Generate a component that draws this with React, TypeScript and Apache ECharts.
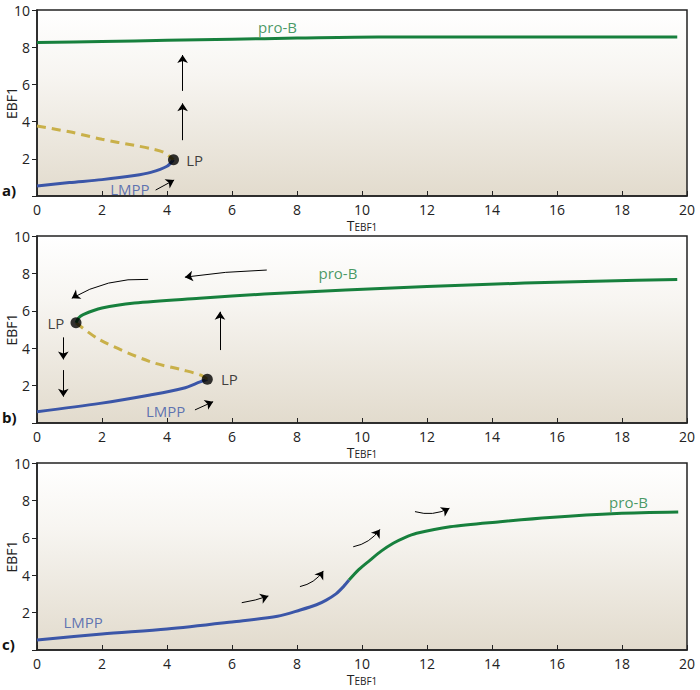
import React, { useEffect, useRef } from "react";
import * as echarts from "echarts";

// x ticks / axis
const xTicks = [0, 2, 4, 6, 8, 10, 12, 14, 16, 18, 20];
const yTicks = [0, 2, 4, 6, 8, 10];

// Panel a
const aProB = [[0, 8.25], [2, 8.31], [4, 8.37], [6, 8.43], [8, 8.49], [10.5, 8.55], [19.7, 8.55]];
const aUnstable = [[0, 3.76], [1, 3.45], [2, 3.05], [3, 2.72], [3.5, 2.55], [3.9, 2.35], [4.2, 1.95]];
const aStable = [[0, 0.54], [1, 0.72], [2, 0.88], [3, 1.1], [3.5, 1.27], [4, 1.6], [4.2, 1.95]];
const aLP = [[4.2, 1.95]];

// Panel b
const bProB = [[1.2, 5.36], [1.28, 5.62], [1.42, 5.8], [2, 6.15], [3, 6.42], [5, 6.67], [7, 6.9], [9.5, 7.11], [12, 7.3], [15, 7.48], [17.5, 7.6], [19.7, 7.68]];
const bUnstable = [[1.2, 5.36], [1.94, 4.44], [3.48, 3.28], [4.5, 2.83], [5.02, 2.57], [5.24, 2.34]];
const bStable = [[0, 0.6], [1.94, 1.05], [3.48, 1.5], [4.5, 1.86], [5.02, 2.2], [5.24, 2.34]];
const bLP = [[1.2, 5.36], [5.24, 2.34]];

// Panel c
const cStable = [[0, 0.53], [2, 0.86], [4, 1.12], [6, 1.5], [7.4, 1.8], [8.1, 2.14], [8.6, 2.42], [8.9, 2.67], [9.2, 3.0], [9.43, 3.39], [9.6, 3.74]];
const cProB = [[9.6, 3.74], [9.9, 4.3], [10.25, 4.81], [10.6, 5.3], [10.96, 5.71], [11.3, 6.0], [11.68, 6.24], [12.71, 6.59], [14.25, 6.86], [15.78, 7.09], [17.84, 7.3], [19.73, 7.38]];

// Text labels: [x, y, text, kind]
const aLabels: [number, number, string, string][] = [[7.4, 9.1, "pro-B", "g"], [2.86, 0.37, "LMPP", "b"], [4.85, 1.95, "LP", "k"]];
const bLabels: [number, number, string, string][] = [[9.26, 8.04, "pro-B", "g"], [3.96, 0.66, "LMPP", "b"], [0.58, 5.36, "LP", "k"], [5.92, 2.34, "LP", "k"]];
const cLabels: [number, number, string, string][] = [[1.42, 1.51, "LMPP", "b"], [18.2, 7.93, "pro-B", "g"]];

// Arrows: [x1, y1, x2, y2, curveness]
const aArrows = [[3.65, 0.32, 4.22, 0.86, 0], [4.48, 3.0, 4.48, 4.98, 0], [4.48, 5.65, 4.48, 7.58, 0]];
const bArrows = [[0.81, 4.58, 0.81, 3.4, 0], [0.81, 2.83, 0.81, 1.41, 0], [5.63, 3.9, 5.63, 5.95, 0], [4.86, 0.7, 5.42, 1.14, 0], [7.07, 8.18, 4.55, 7.8, -0.03], [3.42, 7.68, 1.07, 6.67, -0.15]];
const cArrows = [[6.3, 2.53, 7.12, 2.89, -0.05], [8.09, 3.39, 8.81, 4.23, -0.2], [9.73, 5.52, 10.55, 6.45, -0.2], [11.63, 7.4, 12.69, 7.58, -0.2]];

const GREEN = "#17803d";
const BLUE = "#3b56a8";
const YELLOW = "#c9b049";
const FONT = "Open Sans";

const colorOf = (k: string) => (k === "g" ? GREEN : k === "b" ? BLUE : "#111");

const grids = [
  { top: 10, height: 186 },
  { top: 236, height: 187 },
  { top: 463, height: 187 },
];

export default function App() {
  const ref = useRef<HTMLDivElement>(null);
  useEffect(() => {
    document.body.style.margin = "0";
    const chart = echarts.init(ref.current!, null, { renderer: "svg" });
    const bg = {
      type: "linear", x: 0, y: 0, x2: 0, y2: 1,
      colorStops: [{ offset: 0, color: "#ffffff" }, { offset: 0.35, color: "#f7f5f1" }, { offset: 1, color: "#e2dbcd" }],
    };
    const series: any[] = [];
    const panels = [
      { stable: aStable, unstable: aUnstable, pro: [aProB], lp: aLP, labels: aLabels, arrows: aArrows },
      { stable: bStable, unstable: bUnstable, pro: [bProB], lp: bLP, labels: bLabels, arrows: bArrows },
      { stable: cStable, unstable: null, pro: [cProB], lp: [], labels: cLabels, arrows: cArrows },
    ];
    panels.forEach((p, i) => {
      const ax = { xAxisIndex: i, yAxisIndex: i };
      const line = (data: any, color: string, dashed = false) => ({
        type: "line", ...ax, data, smooth: 0.3, showSymbol: false, symbol: "none",
        lineStyle: { color, width: 3, type: dashed ? [9, 6] : "solid" }, z: 3,
      });
      series.push(line(p.stable, BLUE));
      if (p.unstable) series.push(line(p.unstable, YELLOW, true));
      p.pro.forEach((d) => series.push(line(d, GREEN)));
      if (p.lp.length) {
        series.push({ type: "scatter", ...ax, data: p.lp, symbolSize: 11, itemStyle: { color: "#000" }, z: 5 });
      }
      series.push({
        type: "lines", coordinateSystem: "cartesian2d", ...ax,
        symbol: ["none", "arrow"], symbolSize: 8,
        data: p.arrows.map((a) => ({ coords: [[a[0], a[1]], [a[2], a[3]]], lineStyle: { curveness: a[4] } })),
        lineStyle: { color: "#000", width: 1, opacity: 1 }, z: 4,
      });
      series.push({
        type: "scatter", ...ax, symbolSize: 1, itemStyle: { color: "rgba(0,0,0,0)" }, z: 6,
        data: p.labels.map((l) => ({
          value: [l[0], l[1]],
          label: { show: true, position: "inside", formatter: l[2], color: colorOf(l[3]), fontSize: 15, fontFamily: FONT },
        })),
      });
    });
    const option: any = {
      animation: false,
      grid: grids.map((g) => ({
        left: 37, width: 650, top: g.top, height: g.height, show: true, outerBoundsMode: "none", containLabel: false,
        backgroundColor: bg, borderColor: "#222", borderWidth: 1.5,
      })),
      xAxis: grids.map((_, i) => ({
        type: "value", gridIndex: i, min: 0, max: 20, interval: 2,
        axisLine: { show: true, lineStyle: { color: "#222", width: 1.5 } },
        axisTick: { show: true, inside: true, length: 5, lineStyle: { color: "#222" } },
        axisLabel: { color: "#222", fontSize: 14, fontFamily: FONT, margin: 6 },
        splitLine: { show: false },
        name: "{t|T}{s|EBF1}", nameLocation: "middle", nameGap: 22, nameMoveOverlap: false,
        nameTextStyle: {
          lineHeight: 14,
          rich: {
            t: { fontSize: 14, fontFamily: FONT, color: "#222", lineHeight: 14 },
            s: { fontSize: 10, fontFamily: FONT, color: "#222", lineHeight: 14, verticalAlign: "bottom" },
          },
        },
      })),
      yAxis: grids.map((_, i) => ({
        type: "value", gridIndex: i, min: 0, max: 10, interval: 2,
        axisLine: { show: true, lineStyle: { color: "#222", width: 1.5 } },
        axisTick: { show: true, inside: false, length: 5, lineStyle: { color: "#222" } },
        axisLabel: {
          color: "#222", fontSize: 14, fontFamily: FONT, margin: 7,
          formatter: (v: number) => (v === 0 ? "" : String(v)),
        },
        splitLine: { show: false },
        name: "EBF1", nameLocation: "middle", nameGap: 19, nameMoveOverlap: false,
        nameTextStyle: { fontSize: 14, fontFamily: FONT, color: "#222" },
      })),
      graphic: [
        { type: "text", left: 2, top: grids[0].top + grids[0].height - 14, style: { text: "a)", font: `bold 15px "${FONT}"`, fill: "#111" } },
        { type: "text", left: 2, top: grids[1].top + grids[1].height - 14, style: { text: "b)", font: `bold 15px "${FONT}"`, fill: "#111" } },
        { type: "text", left: 2, top: grids[2].top + grids[2].height - 14, style: { text: "c)", font: `bold 15px "${FONT}"`, fill: "#111" } },
      ],
      series,
    };
    chart.setOption(option);
    return () => chart.dispose();
  }, []);
  return <div ref={ref} style={{ width: 700, height: 690 }} />;
}
